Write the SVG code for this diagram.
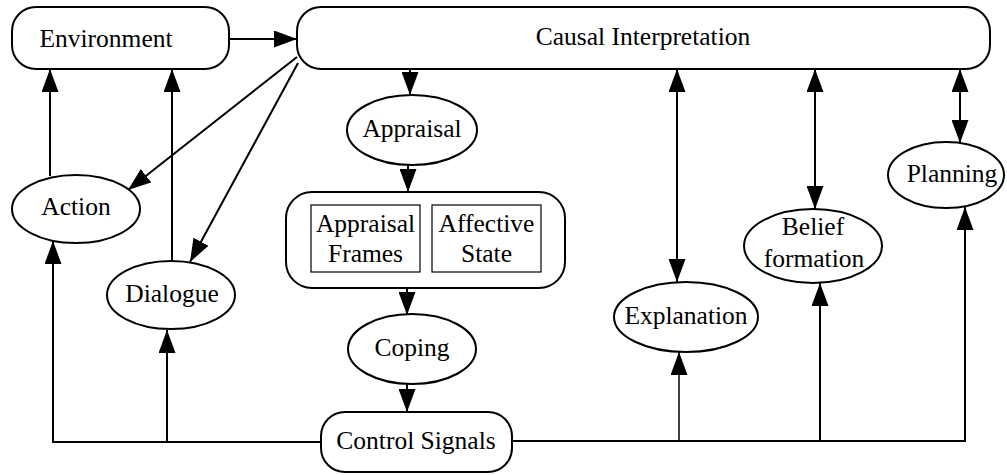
<svg xmlns="http://www.w3.org/2000/svg" width="1007" height="475" viewBox="0 0 1007 475">
<style>
.n{fill:#fff;stroke:#000;stroke-width:2}
.in{fill:#fff;stroke:#000;stroke-width:1.2}
.t{font-family:"Liberation Serif","Times New Roman",serif;font-size:25.5px;fill:#000;text-anchor:middle}
.c{fill:none;stroke:#000;stroke-width:2}
</style>
<defs>
<marker id="ah" viewBox="0 0 23 17" refX="23" refY="8.5" markerWidth="23" markerHeight="17" markerUnits="userSpaceOnUse" orient="auto-start-reverse">
<path d="M0,0 L23,8.5 L0,17 z" fill="#000"/>
</marker>
</defs>
<rect width="1007" height="475" fill="#fff"/>
<g id="connectors">
<path class="c" d="M229,39 L297,39" marker-end="url(#ah)"/>
<path class="c" d="M50,176 L50,69" marker-end="url(#ah)"/>
<path class="c" d="M172,261 L172,69" marker-end="url(#ah)"/>
<path class="c" d="M297,57 L128,190" marker-end="url(#ah)"/>
<path class="c" d="M298,63 L190,262" marker-end="url(#ah)"/>
<path class="c" d="M410,69 L410,95" marker-end="url(#ah)"/>
<path class="c" d="M408,165 L408,192" marker-end="url(#ah)"/>
<path class="c" d="M407,288 L407,315" marker-end="url(#ah)"/>
<path class="c" d="M407,384 L407,412" marker-end="url(#ah)"/>
<path class="c" d="M321,442 L53,442 L53,241" marker-end="url(#ah)"/>
<path class="c" d="M167,442 L167,330" marker-end="url(#ah)"/>
<path class="c" d="M512,441 L965,441 L965,207" marker-end="url(#ah)"/>
<path class="c" d="M679,441 L679,352" marker-end="url(#ah)" style="stroke-width:1.5"/>
<path class="c" d="M820,441 L820,283" marker-end="url(#ah)"/>
<path class="c" d="M677,69 L677,282" marker-start="url(#ah)" marker-end="url(#ah)"/>
<path class="c" d="M815,69 L815,209" marker-start="url(#ah)" marker-end="url(#ah)"/>
<path class="c" d="M960,69 L960,143" marker-start="url(#ah)" marker-end="url(#ah)"/>
</g>
<g id="environment">
<rect class="n" x="12" y="7" width="217" height="62" rx="24"/>
<text class="t" x="106" y="47">Environment</text>
</g>
<g id="causal-interpretation">
<rect class="n" x="297" y="7" width="693" height="62" rx="24"/>
<text class="t" x="643" y="45">Causal Interpretation</text>
</g>
<g id="action">
<ellipse class="n" cx="76" cy="209" rx="64" ry="34"/>
<text class="t" x="76" y="215">Action</text>
</g>
<g id="dialogue">
<ellipse class="n" cx="171" cy="295" rx="64" ry="34"/>
<text class="t" x="172" y="302">Dialogue</text>
</g>
<g id="appraisal">
<ellipse class="n" cx="412" cy="130" rx="65" ry="35"/>
<text class="t" x="412" y="137">Appraisal</text>
</g>
<g id="state">
<rect class="n" x="286" y="192" width="279" height="96" rx="26"/>
<rect class="in" x="311" y="205" width="109" height="67"/>
<text class="t" x="365.5" y="232">Appraisal</text>
<text class="t" x="365.5" y="262">Frames</text>
<rect class="in" x="432" y="205" width="109" height="67"/>
<text class="t" x="486.5" y="232">Affective</text>
<text class="t" x="486.5" y="262">State</text>
</g>
<g id="coping">
<ellipse class="n" cx="412" cy="349" rx="64" ry="35"/>
<text class="t" x="412" y="356">Coping</text>
</g>
<g id="control-signals">
<rect class="n" x="321" y="412" width="191" height="60" rx="24"/>
<text class="t" x="416" y="449">Control Signals</text>
</g>
<g id="explanation">
<ellipse class="n" cx="686" cy="317" rx="72" ry="35"/>
<text class="t" x="686" y="324">Explanation</text>
</g>
<g id="belief-formation">
<ellipse class="n" cx="813" cy="246" rx="69" ry="37"/>
<text class="t" x="813" y="235">Belief</text>
<text class="t" x="814" y="267">formation</text>
</g>
<g id="planning">
<ellipse class="n" cx="946" cy="175" rx="58" ry="33"/>
<text class="t" x="952" y="182">Planning</text>
</g>
</svg>
